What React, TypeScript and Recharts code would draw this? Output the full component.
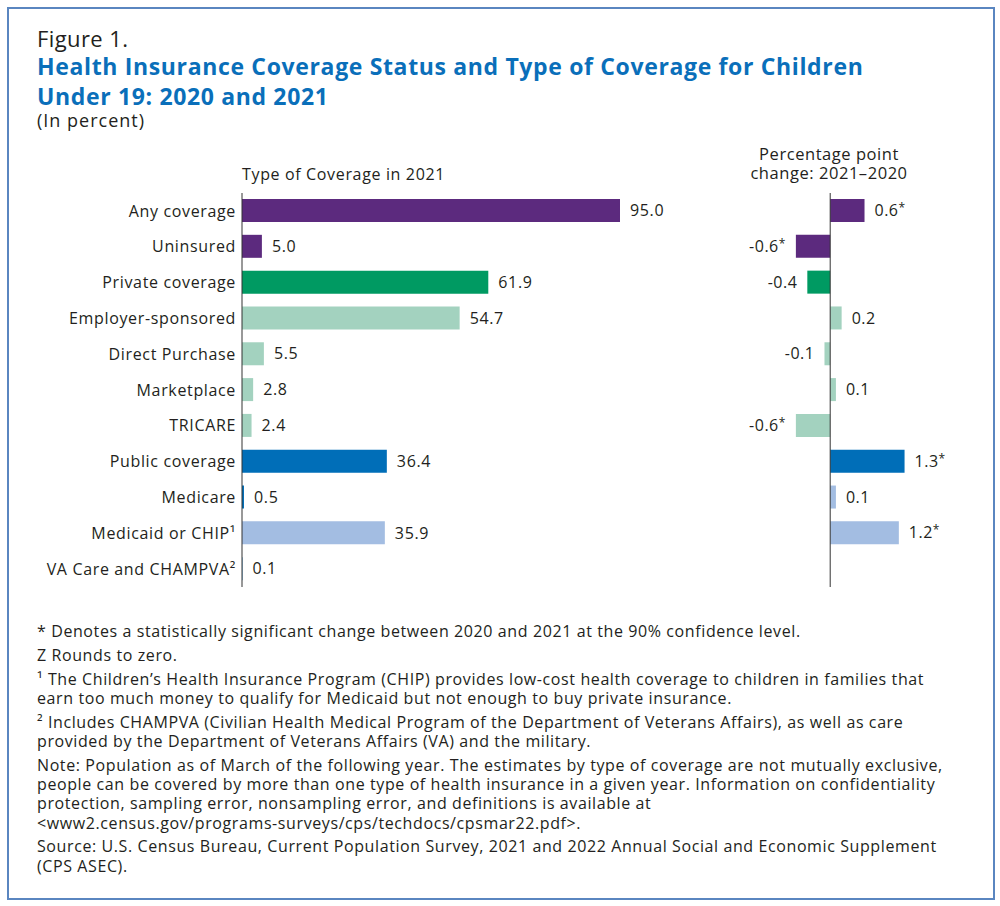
import React from "react";
import { BarChart, Bar, XAxis, YAxis, Cell, LabelList, ReferenceLine } from "recharts";

const categories = [
  "Any coverage",
  "Uninsured",
  "Private coverage",
  "Employer-sponsored",
  "Direct Purchase",
  "Marketplace",
  "TRICARE",
  "Public coverage",
  "Medicare",
  "Medicaid or CHIP¹",
  "VA Care and CHAMPVA²",
];
const coverage2021 = [95.0, 5.0, 61.9, 54.7, 5.5, 2.8, 2.4, 36.4, 0.5, 35.9, 0.1];
const change = [0.6, -0.6, -0.4, 0.2, -0.1, 0.1, -0.6, 1.3, 0.1, 1.2, 0];
const significant = [true, true, false, false, false, false, true, true, false, true, false];

const PURPLE = "#5c2a7e";
const GREEN = "#009a62";
const LGREEN = "#a3d2bf";
const BLUE = "#006eb8";
const LBLUE = "#a3bde2";

const leftColors = [PURPLE, PURPLE, GREEN, LGREEN, LGREEN, LGREEN, LGREEN, BLUE, BLUE, LBLUE, BLUE];
const rightColors = [PURPLE, PURPLE, GREEN, LGREEN, LGREEN, LGREEN, LGREEN, BLUE, LBLUE, LBLUE, LBLUE];

const rows = categories.map((name, i) => ({
  name,
  value: coverage2021[i],
  change: change[i],
}));

const FONT = "'Open Sans', sans-serif";
const INK = "#231f20";

const ChangeLabel = (props: any) => {
  const { x, y, width, height, index } = props;
  const v = change[index];
  const text = v === 0 ? "Z" : v.toFixed(1);
  const left = Math.min(x, x + width);
  const right = Math.max(x, x + width);
  const neg = v < 0;
  return (
    <text
      x={neg ? left - 10 : right + 10}
      y={y + height / 2}
      dy="0.35em"
      textAnchor={neg ? "end" : "start"}
      fontSize={16}
      fill={INK}
      fontFamily={FONT}
    >
      {text}
      {significant[index] && (
        <tspan fontSize={12} dy={-4}>
          *
        </tspan>
      )}
    </text>
  );
};

export default function App() {
  return (
    <div
      style={{
        position: "absolute",
        left: 0,
        top: 0,
        width: 1000,
        height: 906,
        background: "#fff",
        fontFamily: FONT,
        color: INK,
      }}
    >
      <div
        style={{
          position: "absolute",
          left: 7,
          top: 7,
          width: 984,
          height: 889,
          border: "2px solid #5a86c0",
        }}
      />
      <div
        style={{ position: "absolute", left: 37, top: 25, fontSize: 22, lineHeight: "26px", letterSpacing: 0.4 }}
      >
        Figure 1.
      </div>
      <div
        style={{
          position: "absolute",
          left: 37,
          top: 51,
          fontSize: 23,
          lineHeight: "30px",
          fontWeight: 700,
          color: "#0a6fba",
          whiteSpace: "nowrap",
          letterSpacing: 0.65,
        }}
      >
        Health Insurance Coverage Status and Type of Coverage for Children
        <br />
        Under 19: 2020 and 2021
      </div>
      <div
        style={{ position: "absolute", left: 37, top: 108, fontSize: 18, lineHeight: "24px", letterSpacing: 1 }}
      >
        (In percent)
      </div>
      <div
        style={{ position: "absolute", left: 242, top: 163, fontSize: 16, lineHeight: "22px", letterSpacing: 0.65 }}
      >
        Type of Coverage in 2021
      </div>
      <div
        style={{
          position: "absolute",
          left: 729,
          width: 200,
          top: 144,
          fontSize: 16.5,
          lineHeight: "19px",
          textAlign: "center",
          letterSpacing: 0.55,
        }}
      >
        Percentage point
        <br />
        change: 2021–2020
      </div>

      <div style={{ position: "absolute", left: 42, top: 193, letterSpacing: 0.65 }}>
        <BarChart
          width={648}
          height={394}
          data={rows}
          layout="vertical"
          margin={{ top: 0, right: 70, bottom: 0, left: 0 }}
          barCategoryGap={0}
        >
          <XAxis type="number" hide domain={[0, 95]} />
          <YAxis
            type="category"
            dataKey="name"
            width={200}
            tickLine={false}
            tickSize={4}
            axisLine={{ stroke: "#333", strokeWidth: 1 }}
            tick={{ fontSize: 16, fill: INK, fontFamily: FONT }}
            interval={0}
          />
          <Bar dataKey="value" barSize={23} isAnimationActive={false}>
            {rows.map((_, i) => (
              <Cell key={i} fill={leftColors[i]} />
            ))}
            <LabelList
              dataKey="value"
              position="right"
              offset={10}
              formatter={(v: any) => Number(v).toFixed(1)}
              style={{ fontSize: 16, fill: INK, fontFamily: FONT }}
            />
          </Bar>
        </BarChart>
      </div>

      <div style={{ position: "absolute", left: 713, top: 193, letterSpacing: 0.5 }}>
        <BarChart
          width={233}
          height={394}
          data={rows}
          layout="vertical"
          margin={{ top: 0, right: 30, bottom: 0, left: 60 }}
        >
          <XAxis type="number" hide domain={[-1, 1.5]} />
          <YAxis type="category" dataKey="name" hide />
          <Bar dataKey="change" barSize={23} isAnimationActive={false}>
            {rows.map((_, i) => (
              <Cell key={i} fill={rightColors[i]} />
            ))}
            <LabelList dataKey="change" content={ChangeLabel} />
          </Bar>
          <ReferenceLine x={0} stroke="#333" strokeWidth={1} />
        </BarChart>
      </div>

      <div
        style={{
          position: "absolute",
          left: 37,
          top: 622,
          fontSize: 16,
          lineHeight: "19.3px",
          whiteSpace: "nowrap",
          letterSpacing: 0.6,
        }}
      >
        <div style={{ marginBottom: 4.5 }}>
          * Denotes a statistically significant change between 2020 and 2021 at the 90% confidence level.
        </div>
        <div style={{ marginBottom: 4.5 }}>Z Rounds to zero.</div>
        <div style={{ marginBottom: 4.5 }}>
          ¹ The Children’s Health Insurance Program (CHIP) provides low-cost health coverage to children in families that
          <br />
          earn too much money to qualify for Medicaid but not enough to buy private insurance.
        </div>
        <div style={{ marginBottom: 4.5 }}>
          ² Includes CHAMPVA (Civilian Health Medical Program of the Department of Veterans Affairs), as well as care
          <br />
          provided by the Department of Veterans Affairs (VA) and the military.
        </div>
        <div style={{ marginBottom: 4.5 }}>
          Note: Population as of March of the following year. The estimates by type of coverage are not mutually exclusive,
          <br />
          people can be covered by more than one type of health insurance in a given year. Information on confidentiality
          <br />
          protection, sampling error, nonsampling error, and definitions is available at
          <br />
          {"<www2.census.gov/programs-surveys/cps/techdocs/cpsmar22.pdf>."}
        </div>
        <div>
          Source: U.S. Census Bureau, Current Population Survey, 2021 and 2022 Annual Social and Economic Supplement
          <br />
          (CPS ASEC).
        </div>
      </div>
    </div>
  );
}
